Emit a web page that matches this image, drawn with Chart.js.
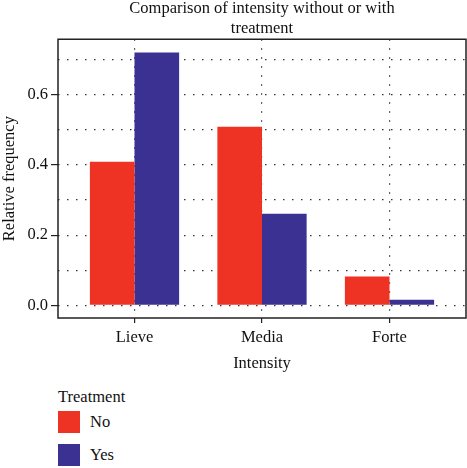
<!DOCTYPE html>
<html>
<head>
<meta charset="utf-8">
<script src="https://cdn.jsdelivr.net/npm/chart.js@4/dist/chart.umd.min.js"></script>
<style>
    body { margin: 0; background: #fff; }
    #wrap { position: relative; width: 467px; height: 468px; font-family: "Liberation Serif", serif; color: #111; }
    #box { position: absolute; left: 0; top: 0; width: 467px; height: 378px; }
    #legend { position: absolute; left: 58px; top: 387px; font-size: 16.5px; }
    #legend .ttl { line-height: 20px; height: 24px; }
    #legend .item { display: flex; align-items: center; height: 22px; margin-bottom: 10.5px; }
    #legend .sw { width: 22px; height: 22px; margin-right: 10px; }
</style>
</head>
<body>
<div id="wrap">
    <div id="box"><canvas id="chart"></canvas></div>
    <div id="legend"></div>
</div>
<script>
/* ================= DATA ================= */
const categories = ["Lieve", "Media", "Forte"];
const noValues = [0.409, 0.509, 0.082];
const yesValues = [0.720, 0.261, 0.016];
const yTickValues = [0, 0.1, 0.2, 0.3, 0.4, 0.5, 0.6, 0.7];
const seriesNames = ["No", "Yes"];
const seriesColors = ["#EE3224", "#3B3192"];

const FONT = "'Liberation Serif', serif";
const INK = "#111";

/* ================= PANEL FRAME ================= */
const framePlugin = {
    id: "frame",
    afterDraw(chart) {
        const { ctx, chartArea: a } = chart;
        ctx.save();
        ctx.strokeStyle = "#222";
        ctx.lineWidth = 1.5;
        ctx.strokeRect(a.left, a.top, a.right - a.left, a.bottom - a.top);
        ctx.restore();
    }
};

const toPoints = vals => vals.map((v, i) => ({ x: i, y: v }));
const isMinor = v => Math.round(v * 10) % 2 === 1;

const chart = new Chart(document.getElementById("chart"), {
    type: "bar",
    data: {
        datasets: [
            { label: seriesNames[0], data: toPoints(noValues), backgroundColor: seriesColors[0] },
            { label: seriesNames[1], data: toPoints(yesValues), backgroundColor: seriesColors[1] }
        ]
    },
    plugins: [framePlugin],
    options: {
        responsive: true,
        maintainAspectRatio: false,
        animation: false,
        categoryPercentage: 0.7,
        barPercentage: 1.0,
        layout: { padding: { top: 0, right: 1, bottom: 0, left: 0 } },
        plugins: {
            legend: { display: false },
            tooltip: { enabled: false },
            title: {
                display: true,
                fullSize: false,
                text: ["Comparison of intensity without or with", "treatment"],
                color: INK,
                font: { family: FONT, size: 16.5, weight: "normal", lineHeight: 1.25 },
                padding: { top: -2, bottom: 0 }
            }
        },
        scales: {
            x: {
                type: "linear",
                min: -0.6,
                max: 2.6,
                offset: false,
                afterBuildTicks: s => { s.ticks = categories.map((c, i) => ({ value: i })); },
                afterFit: s => { s.height = 60; },
                ticks: {
                    color: INK,
                    font: { family: FONT, size: 16.5 },
                    padding: 5,
                    maxRotation: 0,
                    callback: v => categories[v]
                },
                grid: { offset: false, color: "#333", lineWidth: 1.2, tickLength: 5, tickColor: "#222" },
                border: { display: false, dash: [1.5, 7.5] },
                title: {
                    display: true,
                    text: "Intensity",
                    color: INK,
                    font: { family: FONT, size: 16.5 },
                    padding: { top: 6, bottom: 4 }
                }
            },
            y: {
                min: -0.0361,
                max: 0.7581,
                afterBuildTicks: s => { s.ticks = yTickValues.map(v => ({ value: v })); },
                afterFit: s => { s.width = 58; },
                ticks: {
                    color: INK,
                    font: { family: FONT, size: 16.5 },
                    padding: 3,
                    callback: v => isMinor(v) ? "" : v.toFixed(1)
                },
                grid: {
                    color: "#333",
                    lineWidth: 1.2,
                    tickLength: 7,
                    tickColor: ctx => ctx.tick && isMinor(ctx.tick.value) ? "rgba(0,0,0,0)" : "#222"
                },
                border: { display: false, dash: [1.5, 7.5] },
                title: {
                    display: true,
                    text: "Relative frequency",
                    color: INK,
                    font: { family: FONT, size: 16.5 },
                    padding: { top: 0, bottom: 8 }
                }
            }
        }
    }
});

/* ================= LEGEND ================= */
const legend = document.getElementById("legend");
legend.innerHTML = "<div class='ttl'>Treatment</div>" +
    chart.data.datasets.map(d =>
        `<div class="item"><span class="sw" style="background:${d.backgroundColor}"></span>${d.label}</div>`
    ).join("");
</script>
</body>
</html>
